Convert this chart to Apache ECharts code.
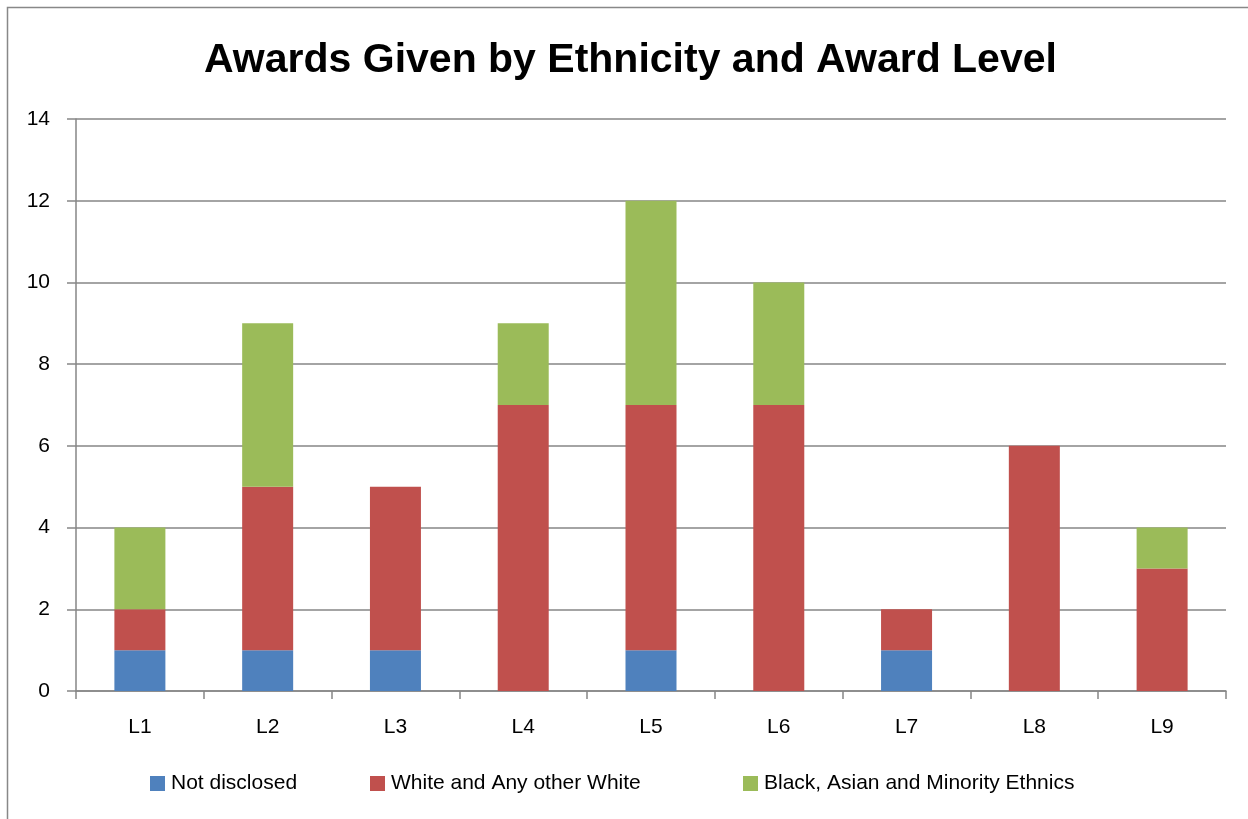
<!DOCTYPE html>
<html><head><meta charset="utf-8">
<script src="https://cdn.jsdelivr.net/npm/echarts@6/dist/echarts.min.js"></script>
<style>html,body{margin:0;padding:0;background:#fff}#c{width:1248px;height:819px}</style>
</head><body><div id="c"></div>
<script>
const categories = ['L1','L2','L3','L4','L5','L6','L7','L8','L9'];
const notDisclosed = [1,1,1,0,1,0,1,0,0];
const white = [1,4,4,7,6,7,1,6,3];
const bame = [2,4,0,2,5,3,0,0,1];
const seriesNames = ['Not disclosed','White and Any other White','Black, Asian and Minority Ethnics'];
const colors = ['#4F81BD','#C0504D','#9BBB59'];
const font = 'Liberation Sans, Arial, sans-serif';
const chart = echarts.init(document.getElementById('c'));
const mk = (name, data, color) => ({
  name, type:'bar', stack:'s', data, barWidth:51,
  itemStyle:{color}, emphasis:{disabled:true}
});
const legendLefts = [150, 370, 743];
chart.setOption({
  animation:false,
  title:{text:'Awards Given by Ethnicity and Award Level', left:204, top:40, padding:0,
    textStyle:{fontFamily:font, fontWeight:'bold', fontSize:41, color:'#000'}},
  graphic:[{type:'rect', shape:{x:7.5,y:7.5,width:1300,height:900}, style:{fill:'none',stroke:'#888',lineWidth:1.5}, silent:true}],
  legend: seriesNames.map((n,i) => ({left:legendLefts[i], top:773, padding:0, itemWidth:15, itemHeight:15, itemGap:6, icon:'rect',
    textStyle:{fontFamily:font, fontSize:21, color:'#000', padding:[0,0,0,1]}, data:[n]})),
  grid:{left:76, right:22, top:119, bottom:128, containLabel:false},
  xAxis:{type:'category', data:categories,
    axisLine:{lineStyle:{color:'#868686', width:1.5}},
    axisTick:{show:true, length:8, lineStyle:{color:'#868686', width:1.5}},
    axisLabel:{fontFamily:font, fontSize:21, color:'#000', margin:26}},
  yAxis:{type:'value', min:0, max:14, interval:2,
    axisLine:{show:true, lineStyle:{color:'#868686', width:1.5}},
    axisTick:{show:true, length:9, lineStyle:{color:'#868686', width:1.5}},
    splitLine:{lineStyle:{color:'#868686', width:1.5}},
    axisLabel:{fontFamily:font, fontSize:21, color:'#000', margin:26}},
  series:[mk(seriesNames[0], notDisclosed, colors[0]), mk(seriesNames[1], white, colors[1]), mk(seriesNames[2], bame, colors[2])]
});
</script></body></html>
